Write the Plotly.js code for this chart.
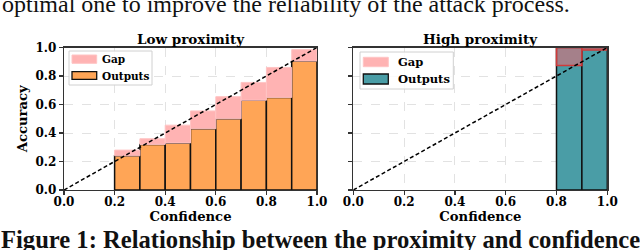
<!DOCTYPE html>
<html>
<head>
<meta charset="utf-8">
<script src="https://cdn.plot.ly/plotly-3.0.1.min.js"></script>
<style>html,body{margin:0;padding:0;background:#fff;}#chart{width:640px;height:250px;}</style>
</head>
<body>
<div id="chart"></div>
<script>
// ---- data ----
const lowBinCenters = [0.25, 0.35, 0.45, 0.55, 0.65, 0.75, 0.85, 0.95];
const lowAccuracy   = [0.24, 0.32, 0.33, 0.43, 0.50, 0.63, 0.65, 0.905];
const lowConfidence = [0.28, 0.36, 0.455, 0.555, 0.655, 0.755, 0.86, 0.985];
const highBinCenters = [0.85, 0.95];
const highAccuracy   = [1.0, 1.0];
const highConfidence = [0.873, 0.983];
const diagonal = [0, 1];
const tickVals = [0, 0.2, 0.4, 0.6, 0.8, 1.0];
const tickText = ['0.0', '0.2', '0.4', '0.6', '0.8', '1.0'];
const binWidth = 0.1;

const SERIF = 'DejaVu Serif';
const ORANGE = '#ffa556';
const TEAL = '#4a9da6';

function gapBase(acc, conf) { return acc.map((a, i) => Math.min(a, conf[i])); }
function gapSize(acc, conf) { return acc.map((a, i) => Math.abs(a - conf[i])); }

const traces = [
  {type: 'bar', x: lowBinCenters, y: lowAccuracy, width: binWidth, xaxis: 'x', yaxis: 'y',
   marker: {color: ORANGE, line: {color: '#111', width: 1.5}}, name: 'Outputs', showlegend: false},
  {type: 'bar', x: lowBinCenters, y: gapSize(lowAccuracy, lowConfidence), base: gapBase(lowAccuracy, lowConfidence),
   width: binWidth, xaxis: 'x', yaxis: 'y',
   marker: {color: '#ffb3b3', line: {color: '#ffc4c4', width: 1}}, name: 'Gap', showlegend: false},
  {type: 'scatter', mode: 'lines', x: diagonal, y: diagonal, xaxis: 'x', yaxis: 'y',
   line: {color: '#000', width: 1.5, dash: '4px,2.5px'}, showlegend: false, hoverinfo: 'skip'},

  {type: 'bar', x: highBinCenters, y: highAccuracy, width: binWidth, xaxis: 'x2', yaxis: 'y2',
   marker: {color: TEAL, line: {color: '#111', width: 1.5}}, name: 'Outputs', showlegend: false},
  {type: 'bar', x: highBinCenters, y: gapSize(highAccuracy, highConfidence), base: gapBase(highAccuracy, highConfidence),
   width: binWidth, xaxis: 'x2', yaxis: 'y2',
   marker: {color: 'rgba(255,100,110,0.5)', line: {color: '#d03a3a', width: 1.5}}, name: 'Gap', showlegend: false},
  {type: 'scatter', mode: 'lines', x: diagonal, y: diagonal, xaxis: 'x2', yaxis: 'y2',
   line: {color: '#000', width: 1.5, dash: '4px,2.5px'}, showlegend: false, hoverinfo: 'skip'}
];

const W = 640, H = 250;
const px = v => v / W;
const py = v => 1 - v / H;

function axisBase(extra) {
  return Object.assign({
    range: [0, 1], tickvals: tickVals, ticktext: tickText,
    showline: true, mirror: true, linecolor: '#333', linewidth: 1.2,
    ticks: 'outside', ticklen: 4, tickwidth: 1.2, tickcolor: '#333',
    showgrid: true, gridcolor: '#e2e2e2', griddash: 'dash', gridwidth: 1,
    zeroline: false, fixedrange: true,
    tickfont: {family: SERIF, size: 12, color: '#000', weight: 'bold'}
  }, extra);
}

const titleFont = {family: SERIF, size: 13.2, color: '#000', weight: 'bold'};

const layout = {
  width: W, height: H,
  margin: {l: 0, r: 0, t: 0, b: 0},
  paper_bgcolor: '#fff', plot_bgcolor: '#fff',
  barmode: 'overlay', bargap: 0,
  showlegend: false,
  xaxis: axisBase({domain: [px(64), px(317)], anchor: 'y', ticklabelstandoff: -4,
    title: {text: 'Confidence', font: titleFont, standoff: 2}}),
  yaxis: axisBase({domain: [py(190), py(47.5)], anchor: 'x',
    title: {text: 'Accuracy', font: titleFont, standoff: 4}}),
  xaxis2: axisBase({domain: [px(353.3), px(607.3)], anchor: 'y2', ticklabelstandoff: -4,
    title: {text: 'Confidence', font: titleFont, standoff: 2}}),
  yaxis2: axisBase({domain: [py(190), py(47.5)], anchor: 'x2', showticklabels: false}),
  shapes: [
    // legend boxes
    {type: 'rect', xref: 'paper', yref: 'paper', x0: px(69), x1: px(152), y0: py(85), y1: py(51),
     line: {color: '#d0d0d0', width: 1}, fillcolor: 'rgba(255,255,255,0.85)', layer: 'above'},
    {type: 'rect', xref: 'paper', yref: 'paper', x0: px(72), x1: px(96.7), y0: py(63.3), y1: py(55),
     line: {color: '#ffc4c4', width: 1}, fillcolor: '#ffb3b3', layer: 'above'},
    {type: 'rect', xref: 'paper', yref: 'paper', x0: px(72), x1: px(96.7), y0: py(79.3), y1: py(71.7),
     line: {color: '#111', width: 1.3}, fillcolor: ORANGE, layer: 'above'},

    {type: 'rect', xref: 'paper', yref: 'paper', x0: px(360), x1: px(453.3), y0: py(89), y1: py(52),
     line: {color: '#d0d0d0', width: 1}, fillcolor: 'rgba(255,255,255,0.85)', layer: 'above'},
    {type: 'rect', xref: 'paper', yref: 'paper', x0: px(363.3), x1: px(388.3), y0: py(66.7), y1: py(57.3),
     line: {color: '#ffc4c4', width: 1}, fillcolor: '#ffb3b3', layer: 'above'},
    {type: 'rect', xref: 'paper', yref: 'paper', x0: px(363.3), x1: px(388.3), y0: py(84), y1: py(74),
     line: {color: '#111', width: 1.3}, fillcolor: TEAL, layer: 'above'}
  ],
  annotations: [
    {text: 'Low proximity', xref: 'paper', yref: 'paper', x: px(190.5), y: py(38.5), xanchor: 'center', yanchor: 'middle',
     showarrow: false, font: {family: SERIF, size: 13.5, color: '#000', weight: 'bold'}},
    {text: 'High proximity', xref: 'paper', yref: 'paper', x: px(480.3), y: py(38.5), xanchor: 'center', yanchor: 'middle',
     showarrow: false, font: {family: SERIF, size: 13.5, color: '#000', weight: 'bold'}},
    {text: 'Gap', xref: 'paper', yref: 'paper', x: px(100), y: py(59), xanchor: 'left', yanchor: 'middle',
     showarrow: false, font: {family: SERIF, size: 10.5, color: '#000', weight: 'bold'}},
    {text: 'Outputs', xref: 'paper', yref: 'paper', x: px(100), y: py(75.5), xanchor: 'left', yanchor: 'middle',
     showarrow: false, font: {family: SERIF, size: 10.5, color: '#000', weight: 'bold'}},
    {text: 'Gap', xref: 'paper', yref: 'paper', x: px(395.5), y: py(62), xanchor: 'left', yanchor: 'middle',
     showarrow: false, font: {family: SERIF, size: 11.5, color: '#000', weight: 'bold'}},
    {text: 'Outputs', xref: 'paper', yref: 'paper', x: px(395.5), y: py(79), xanchor: 'left', yanchor: 'middle',
     showarrow: false, font: {family: SERIF, size: 11.5, color: '#000', weight: 'bold'}},
    {text: 'optimal one to improve the reliability of the attack process.', xref: 'paper', yref: 'paper',
     x: 0, y: py(3.5), xanchor: 'left', yanchor: 'middle',
     showarrow: false, font: {family: 'Liberation Serif', size: 24, color: '#111'}},
    {text: 'Figure 1: Relationship between the proximity and confidence', xref: 'paper', yref: 'paper',
     x: px(-1), y: py(239), xanchor: 'left', yanchor: 'middle',
     showarrow: false, font: {family: 'Liberation Serif', size: 24.6, color: '#111', weight: 'bold'}}
  ]
};

Plotly.newPlot('chart', traces, layout, {staticPlot: true, displayModeBar: false});
</script>
</body>
</html>
